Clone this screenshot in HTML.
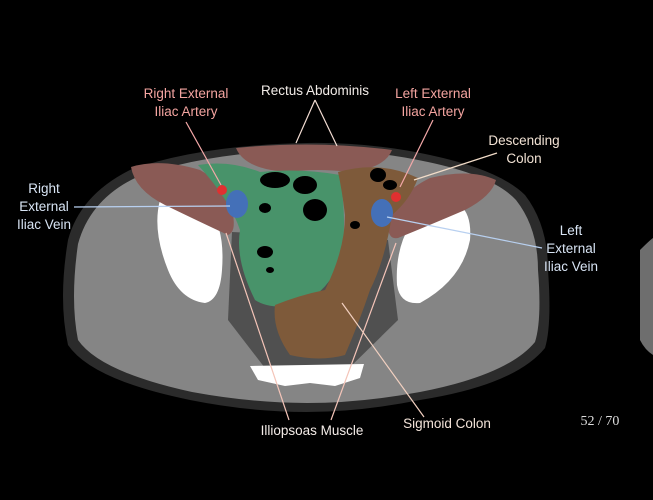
<!DOCTYPE html>
<html><head><meta charset="utf-8"><style>
html,body{margin:0;padding:0;background:#000;width:653px;height:500px;overflow:hidden}
svg{display:block}
text{font-family:"Liberation Sans",sans-serif;font-size:13.5px;text-anchor:middle}
</style></head><body>
<svg width="653" height="500" viewBox="0 0 653 500" xmlns="http://www.w3.org/2000/svg">
<rect width="653" height="500" fill="#000"/>
<path d="M640,250 Q650,240 653,238 L653,355 Q645,350 640,340 Z" fill="#6e6e6e"/>
<!-- body -->
<path d="M307,143 Q370,142 430,155 Q500,170 525,195 Q548,225 548,270 Q552,325 545,348 Q515,385 420,400 Q360,412 307,412 Q250,412 190,400 Q92,380 68,345 Q58,300 68,240 Q80,195 130,170 Q200,145 307,143 Z" fill="#2b2b2b"/>
<path d="M307,150 Q368,149 428,162 Q494,176 516,200 Q538,228 538,270 Q542,320 535,342 Q508,375 420,392 Q360,403 307,403 Q252,403 192,392 Q100,372 78,340 Q70,300 78,244 Q90,200 135,178 Q205,152 307,150 Z" fill="#858585"/>
<!-- dark fat -->
<path d="M232,232 L388,240 L398,320 L345,372 L268,372 L228,320 Z" fill="#505050"/>
<!-- bones -->
<path d="M160,200 Q185,195 210,210 Q225,230 222,270 Q220,300 205,303 Q180,300 168,270 Q152,230 160,200 Z" fill="#fff"/>
<path d="M460,205 Q472,215 470,240 Q462,280 420,303 Q400,305 397,285 Q395,250 410,225 Q440,205 460,205 Z" fill="#fff"/>
<!-- iliacus -->
<path d="M131,167 Q160,158 200,170 Q228,185 233,215 Q236,232 228,235 Q200,222 165,205 Q135,190 131,167 Z" fill="#8a5a55"/>
<path d="M496,180 Q470,168 430,178 Q395,195 388,225 Q388,240 398,238 Q430,225 465,210 Q492,196 496,180 Z" fill="#8a5a55"/>
<!-- rectus -->
<path d="M236,148 Q315,140 392,150 Q385,168 350,172 Q315,168 290,172 Q245,170 236,148 Z" fill="#8a5a55"/>
<!-- green -->
<path d="M198,165 Q230,160 260,172 Q300,168 340,175 Q348,230 340,260 Q330,290 300,305 Q270,310 255,300 Q235,260 240,230 Q230,200 198,165 Z" fill="#48936a"/>
<!-- colon -->
<path d="M338,172 Q380,160 418,178 Q410,200 392,215 Q385,260 370,290 Q360,320 345,355 Q320,362 290,355 Q272,330 275,305 Q300,295 325,290 Q345,250 345,215 Q342,190 338,172 Z" fill="#7e5a3a"/>
<g fill="#000">
<ellipse cx="275" cy="180" rx="15" ry="8"/><ellipse cx="305" cy="185" rx="12" ry="9"/><ellipse cx="315" cy="210" rx="12" ry="11"/>
<ellipse cx="265" cy="208" rx="6" ry="5"/><ellipse cx="265" cy="252" rx="8" ry="6"/><ellipse cx="270" cy="270" rx="4" ry="3"/>
<ellipse cx="378" cy="175" rx="8" ry="7"/><ellipse cx="390" cy="185" rx="7" ry="5"/><ellipse cx="355" cy="225" rx="5" ry="4"/>
</g>
<ellipse cx="237" cy="204" rx="11" ry="14" fill="#4470b8"/>
<ellipse cx="382" cy="213" rx="11" ry="14" fill="#4470b8"/>
<circle cx="222" cy="190" r="5" fill="#e03030"/>
<circle cx="396" cy="197" r="5" fill="#e03030"/>
<path d="M250,366 L364,364 L360,378 L335,386 L310,383 L285,386 L258,380 Z" fill="#fff"/>
<g stroke-width="1.2" fill="none">
<path d="M315,100 L296,143 M315,100 L337,146" stroke="#f2dcd2"/>
<path d="M186,122 L221,185" stroke="#f4a8a8"/>
<path d="M433,120 L400,187" stroke="#f4a8a8"/>
<path d="M497,153 L414,180" stroke="#f2dcc8"/>
<path d="M74,207 L230,206" stroke="#b8d0f0"/>
<path d="M387,217 L542,248" stroke="#b8d0f0"/>
<path d="M226,233 L289,420 M396,243 L331,420" stroke="#f4c4b8"/>
<path d="M342,303 L424,417" stroke="#f2d0c0"/>
</g>
<g fill="#f4a4a0"><text x="186" y="98">Right External</text><text x="186" y="116">Iliac Artery</text>
<text x="433" y="98">Left External</text><text x="433" y="116">Iliac Artery</text></g>
<text x="315" y="95" fill="#f2ece8">Rectus Abdominis</text>
<g fill="#f2e2d4"><text x="524" y="145">Descending</text><text x="524" y="163">Colon</text></g>
<g fill="#d8e4f4"><text x="44" y="193">Right</text><text x="44" y="211">External</text><text x="44" y="229">Iliac Vein</text>
<text x="571" y="235">Left</text><text x="571" y="253">External</text><text x="571" y="271">Iliac Vein</text></g>
<text x="312" y="435" fill="#f4ece8">Illiopsoas Muscle</text>
<text x="447" y="428" fill="#f4e4da">Sigmoid Colon</text>
<text x="600" y="425" fill="#ddd" style="font-family:'Liberation Serif',serif;font-size:14px">52 / 70</text>
</svg>
</body></html>
